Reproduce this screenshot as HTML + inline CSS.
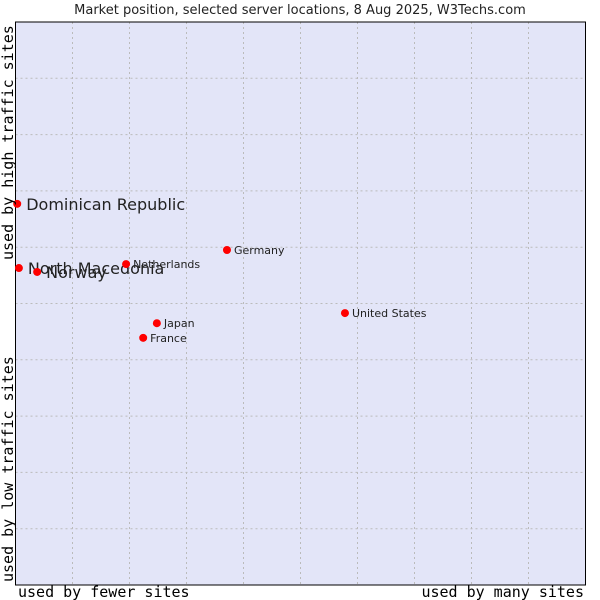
<!DOCTYPE html>
<html><head><meta charset="utf-8"><style>
body{margin:0;background:#fff;}
svg{display:block;font-family:"DejaVu Sans","Liberation Sans",sans-serif;}
</style></head><body>
<svg id="chart" width="600" height="600">
<text x="300" y="14" text-anchor="middle" font-size="13" fill="#222">Market position, selected server locations, 8 Aug 2025, W3Techs.com</text>
<rect x="15.5" y="22" width="570" height="563" fill="#e3e5f8"/>
<g id="grid"></g>
<rect x="15.5" y="22" width="570" height="563" fill="none" stroke="#000" stroke-width="1"/>
<g id="points"></g>
<text x="18" y="597" font-family="'DejaVu Sans Mono','Liberation Mono',monospace" font-size="15" fill="#000">used by fewer sites</text>
<text x="584" y="597" text-anchor="end" font-family="'DejaVu Sans Mono','Liberation Mono',monospace" font-size="15" fill="#000">used by many sites</text>
<text transform="translate(13,582) rotate(-90)" font-family="'DejaVu Sans Mono','Liberation Mono',monospace" font-size="15" fill="#000">used by low traffic sites</text>
<text transform="translate(13,260) rotate(-90)" font-family="'DejaVu Sans Mono','Liberation Mono',monospace" font-size="15" fill="#000">used by high traffic sites</text>
</svg>
<script>
const countries=["Dominican Republic","North Macedonia","Norway","Netherlands","Germany","United States","Japan","France"];
const xValues=[0.3,0.6,3.8,19.4,37.1,57.8,24.8,22.4];
const yValues=[67.7,56.3,55.6,57.0,59.5,48.3,46.5,43.9];
const labelSizes=[16,16,16,11,11,11,11,11];
const gridTicks=[10,20,30,40,50,60,70,80,90];
const NS="http://www.w3.org/2000/svg";
const L=15.5,R=585.5,T=22,B=585;
function sx(v){return L+v/100*(R-L);}
function sy(v){return B-v/100*(B-T);}
const grid=document.getElementById('grid');
gridTicks.forEach(t=>{
  const v=document.createElementNS(NS,'line');
  v.setAttribute('x1',sx(t));v.setAttribute('x2',sx(t));v.setAttribute('y1',T);v.setAttribute('y2',B);
  v.setAttribute('stroke','#bbb');v.setAttribute('stroke-dasharray','2,3');
  
  
  grid.appendChild(v);
  const h=document.createElementNS(NS,'line');
  h.setAttribute('y1',sy(t));h.setAttribute('y2',sy(t));h.setAttribute('x1',L);h.setAttribute('x2',R);
  h.setAttribute('stroke','#bbb');h.setAttribute('stroke-dasharray','2,3');
  
  
  grid.appendChild(h);
});
const pts=document.getElementById('points');
countries.forEach((c,i)=>{
  const x=sx(xValues[i]),y=sy(yValues[i]);
  const d=document.createElementNS(NS,'circle');
  d.setAttribute('cx',x);d.setAttribute('cy',y);d.setAttribute('r',4);d.setAttribute('fill','#f00');
  
  
  pts.appendChild(d);
  const t=document.createElementNS(NS,'text');
  const big=labelSizes[i]>12;
  t.setAttribute('x',x+(big?9:7));t.setAttribute('y',y+(big?6:4));
  t.setAttribute('font-size',labelSizes[i]);t.setAttribute('fill','#222');
  t.textContent=c;
  
  
  pts.appendChild(t);
});
</script>
</body></html>
